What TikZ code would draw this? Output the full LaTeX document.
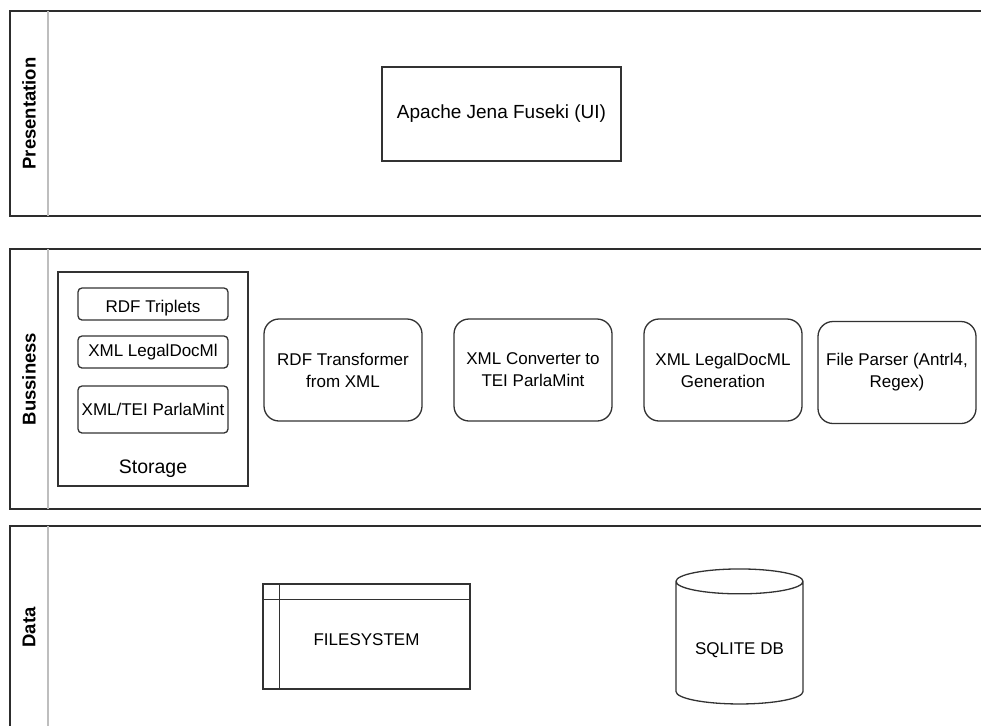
\documentclass[tikz,border=0pt]{standalone}
\usepackage{fontspec}
\setmainfont{Liberation Sans}
\usepackage{tikz}
\usepackage{xcolor}
\usetikzlibrary{positioning,shapes.geometric}
\definecolor{lanedark}{RGB}{45,45,45}
\definecolor{boxdark}{RGB}{50,50,50}
\definecolor{dividerg}{RGB}{190,190,190}
\tikzset{
  lane/.style={draw=lanedark, line width=1.5pt},
  divider/.style={draw=dividerg, line width=1.5pt},
  lanelabel/.style={rotate=90, inner sep=0pt, font=\bfseries\fontsize{18.5}{22}\selectfont},
  plainbox/.style={draw=boxdark, line width=1.3pt, align=center, inner sep=0pt, font=\fontsize{17}{22}\selectfont},
  roundbox/.style={plainbox, rounded corners=15pt, minimum width=158pt, minimum height=102pt},
  storebox/.style={plainbox, rounded corners=4pt, minimum width=150pt},
}

\begin{document}
\begin{tikzpicture}[x=1pt,y=-1pt]
            \useasboundingbox (0,0) rectangle (981,725);
            \clip (0,0) rectangle (981,725);
            \draw[lane] (10,11) rectangle (1000,216);
            \draw[divider] (48,11) -- (48,216);
            \node[lanelabel] (presentation) at (29,113.5) {Presentation};
            \draw[lane] (10,249) rectangle (1000,509);
            \draw[divider] (48,249) -- (48,509);
            \node[lanelabel] (business) at (29,379) {Bussiness};
            \draw[lane] (10,526) rectangle (1000,729);
            \draw[divider] (48,526) -- (48,729);
            \node[lanelabel] (data) at (29,627.5) {Data};
            \node[plainbox, minimum width=239pt, minimum height=94pt, font=\fontsize{19}{23}\selectfont] (fuseki) at (501.5,114) {Apache Jena Fuseki (UI)};
            \node[plainbox, minimum width=190pt, minimum height=214pt] (storage) at (153,379) {};
            \node[font=\fontsize{19.5}{23}\selectfont, inner sep=0pt] (storagelabel) at (153,469) {Storage};
            \node[storebox, minimum height=32pt] (triplets) at (153,304) {\raisebox{-8pt}[0pt][0pt]{RDF Triplets}};
            \node[storebox, minimum height=32pt] (legaldoc) at (153,352) {XML LegalDocMl};
            \node[storebox, minimum height=47pt] (parlamint) at (153,409.5) {XML/TEI ParlaMint};
            \node[roundbox] (transformer) at (343,370) {RDF Transformer\\from XML};
            \node[roundbox] (converter) at (533,370) {XML Converter to\\TEI ParlaMint};
            \node[roundbox] (generation) at (723,370) {XML LegalDocML\\Generation};
            \node[roundbox] (parser) at (897,372.5) {File Parser (Antrl4,\\Regex)};
            \node[plainbox, minimum width=207pt, minimum height=105pt] (filesystem) at (366.5,636.5) {\raisebox{-9pt}[0pt][0pt]{FILESYSTEM}};
            \draw[boxdark, line width=1.3pt] ([xshift=17pt]filesystem.north west) -- ([xshift=17pt]filesystem.south west);
            \draw[boxdark, line width=1.3pt] ([yshift=-16pt]filesystem.north west) -- ([yshift=-16pt]filesystem.north east);
            \node[plainbox, cylinder, shape border rotate=90, aspect=0.28, minimum width=127pt, minimum height=135pt] (sqlite) at (739.5,643) {\raisebox{-11pt}[0pt][0pt]{SQLITE DB}};
        \end{tikzpicture}
\end{document}
